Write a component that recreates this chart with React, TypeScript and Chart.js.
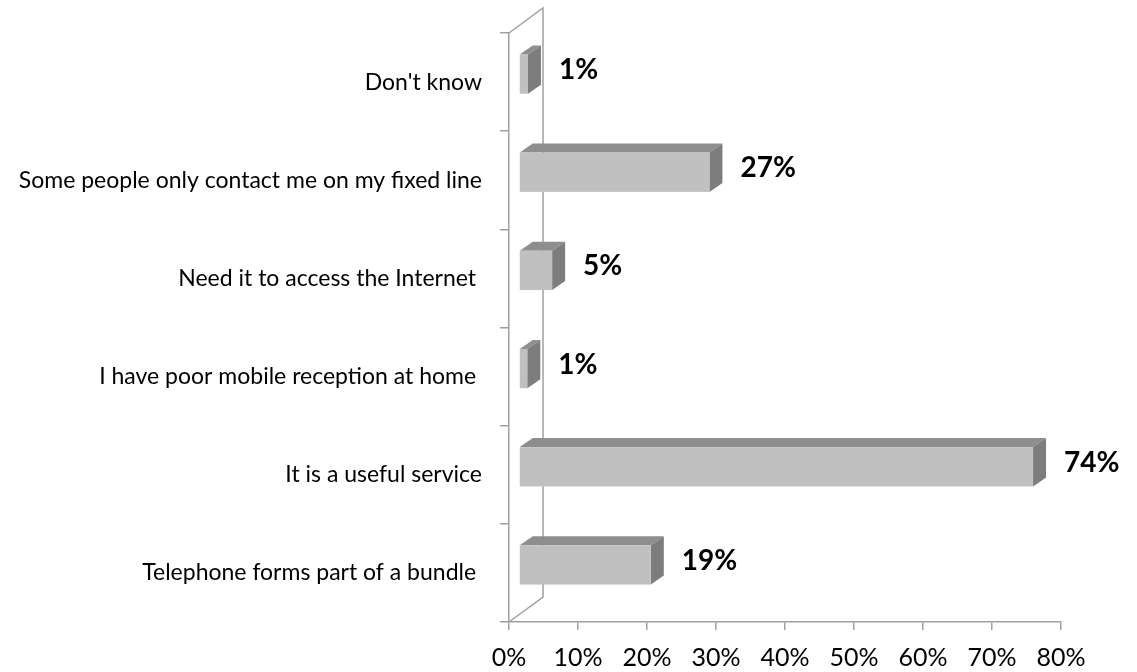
import React, { useEffect, useRef } from "react";
import { Chart, registerables } from "chart.js";

Chart.register(...registerables);

const categories = [
  "Don't know",
  "Some people only contact me on my fixed line",
  "Need it to access the Internet ",
  "I have poor mobile reception at home ",
  "It is a useful service",
  "Telephone forms part of a bundle ",
];
const values = [1.3, 27.6, 4.8, 1.2, 74.5, 19.1];
const valueLabels = ["1%", "27%", "5%", "1%", "74%", "19%"];
const xTicks = [0, 10, 20, 30, 40, 50, 60, 70, 80];

const FONT = "Lato, 'Open Sans', sans-serif";
const AXIS_GREY = "#a0a0a0";

const wall3d = {
  id: "wall3d",
  beforeDatasetsDraw(chart: any) {
    const { ctx, chartArea } = chart;
    const dx = 34, dy = -25;
    const l = chartArea.left, t = chartArea.top, b = chartArea.bottom;
    ctx.save();
    ctx.strokeStyle = AXIS_GREY;
    ctx.lineWidth = 1.5;
    ctx.beginPath();
    ctx.moveTo(l, t);
    ctx.lineTo(l + dx, t + dy);
    ctx.lineTo(l + dx, b + dy);
    ctx.lineTo(l, b);
    ctx.stroke();
    ctx.restore();
  },
};

const bars3d = {
  id: "bars3d",
  beforeDatasetDraw() {
    return false;
  },
  afterDatasetsDraw(chart: any) {
    const { ctx } = chart;
    const meta = chart.getDatasetMeta(0);
    const ox = 10, oy = -8; // position of bar inside depth
    const sx = 13, sy = -9; // bar depth
    ctx.save();
    meta.data.forEach((el: any, i: number) => {
      const p = el.getProps(["x", "y", "base", "height"], true);
      const x0 = p.base + ox;
      const x1 = p.x + ox;
      const y0 = p.y - p.height / 2 + oy;
      const y1 = p.y + p.height / 2 + oy;
      // top face
      ctx.fillStyle = "#8e8e8e";
      ctx.beginPath();
      ctx.moveTo(x0, y0);
      ctx.lineTo(x0 + sx, y0 + sy);
      ctx.lineTo(x1 + sx, y0 + sy);
      ctx.lineTo(x1, y0);
      ctx.closePath();
      ctx.fill();
      // side face
      ctx.fillStyle = "#7d7d7d";
      ctx.beginPath();
      ctx.moveTo(x1, y0);
      ctx.lineTo(x1 + sx, y0 + sy);
      ctx.lineTo(x1 + sx, y1 + sy);
      ctx.lineTo(x1, y1);
      ctx.closePath();
      ctx.fill();
      // front face
      ctx.fillStyle = "#c0c0c0";
      ctx.fillRect(x0, y0, x1 - x0, y1 - y0);
      // value label
      ctx.fillStyle = "#000";
      ctx.font = "bold 28px " + FONT;
      ctx.textAlign = "left";
      ctx.textBaseline = "middle";
      ctx.fillText(valueLabels[i], x1 + sx + 18, (y0 + y1) / 2 - 4);
    });
    ctx.restore();
  },
};

export default function App() {
  const ref = useRef<HTMLCanvasElement>(null);
  useEffect(() => {
    if (!ref.current) return;
    const chart = new Chart(ref.current, {
      type: "bar",
      data: {
        labels: categories,
        datasets: [
          {
            data: values,
            backgroundColor: "#c0c0c0",
            barPercentage: 0.4,
            categoryPercentage: 1,
          },
        ],
      },
      options: {
        indexAxis: "y",
        animation: false,
        responsive: true,
        maintainAspectRatio: false,
        layout: { padding: { left: 0, top: 33, right: 76, bottom: 0 } },
        plugins: { legend: { display: false }, tooltip: { enabled: false } },
        scales: {
          x: {
            min: 0,
            max: 80,
            afterBuildTicks: (s: any) => {
              s.ticks = xTicks.map((v) => ({ value: v }));
            },
            afterFit: (s: any) => {
              s.height = 50;
            },
            grid: {
              drawOnChartArea: false,
              drawTicks: true,
              tickLength: 8,
              color: AXIS_GREY,
              lineWidth: 1.5,
            },
            border: { display: true, color: AXIS_GREY, width: 1.5 },
            ticks: {
              callback: (v: any) => v + "%",
              color: "#000",
              font: { family: FONT, size: 25 },
              padding: 13,
              maxRotation: 0,
            },
          },
          y: {
            afterFit: (s: any) => {
              s.width = 509;
            },
            grid: {
              offset: true,
              drawOnChartArea: false,
              drawTicks: true,
              tickLength: 9,
              color: AXIS_GREY,
              lineWidth: 1.5,
            },
            border: { display: true, color: AXIS_GREY, width: 1.5 },
            ticks: {
              color: "#000",
              font: { family: FONT, size: 23 },
              padding: 18,
              autoSkip: false,
            },
          },
        },
      },
      plugins: [wall3d, bars3d],
    });
    return () => chart.destroy();
  }, []);
  return (
    <div style={{ position: "absolute", left: 0, top: 0, width: 1137, height: 672, background: "#fff" }}>
      <canvas ref={ref} />
    </div>
  );
}
